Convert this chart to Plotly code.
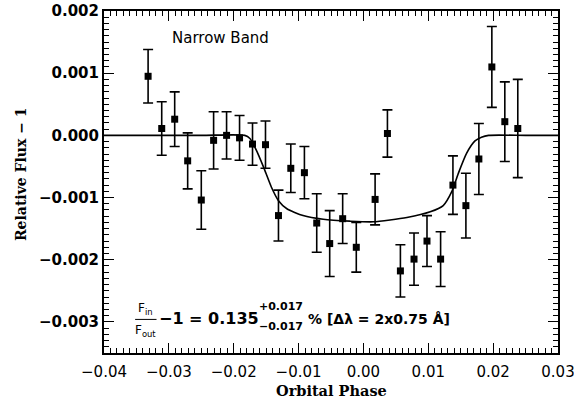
import plotly.graph_objects as go

# Binned narrow-band light curve
phase = [-0.0332, -0.0311, -0.0291, -0.0271, -0.0250, -0.0231, -0.0211, -0.0191,
         -0.0171, -0.0151, -0.0131, -0.0112, -0.0091, -0.0072, -0.0052, -0.0032,
         -0.0011, 0.0018, 0.0037, 0.0057, 0.0078, 0.0098, 0.0119, 0.0138,
         0.0158, 0.0178, 0.0198, 0.0218, 0.0238]
flux = [0.00095, 0.00011, 0.00026, -0.00041, -0.00104, -0.00008, 0.00000, -0.00004,
        -0.00014, -0.00015, -0.00129, -0.00053, -0.00060, -0.00141, -0.00174, -0.00134,
        -0.00180, -0.00103, 0.00003, -0.00218, -0.00199, -0.00170, -0.00199, -0.00080,
        -0.00113, -0.00038, 0.00110, 0.00022, 0.00011]
flux_err = [0.00043, 0.00043, 0.00044, 0.00045, 0.00047, 0.00046, 0.00038, 0.00036,
            0.00034, 0.00038, 0.00041, 0.00039, 0.00042, 0.00047, 0.00053, 0.00040,
            0.00040, 0.00041, 0.00038, 0.00042, 0.00042, 0.00041, 0.00044, 0.00047,
            0.00052, 0.00057, 0.00065, 0.00064, 0.00079]

# Transit model curve
model_phase = [-0.04, -0.025, -0.0183, -0.0175, -0.0165, -0.0154, -0.0142, -0.0131,
               -0.0118, -0.0093, -0.0062, -0.0021, 0.0015, 0.0067, 0.0103, 0.0123,
               0.0136, 0.0146, 0.0159, 0.0172, 0.0182, 0.0193, 0.025, 0.03]
model_flux = [0.0, 0.0, 0.0, -0.00005, -0.00024, -0.00051, -0.00083, -0.00105,
              -0.00118, -0.00129, -0.00135, -0.00138, -0.00139, -0.00132, -0.00123, -0.00113,
              -0.00091, -0.00062, -0.00029, -0.00009, -0.00003, 0.0, 0.0, 0.0]

x_ticks = [-0.04, -0.03, -0.02, -0.01, 0.00, 0.01, 0.02, 0.03]
x_labels = ["−0.04", "−0.03", "−0.02", "−0.01", "0.00", "0.01", "0.02", "0.03"]
y_ticks = [-0.003, -0.002, -0.001, 0.000, 0.001, 0.002]
y_labels = ["−0.003", "−0.002", "−0.001", "0.000", "0.001", "0.002"]

fig = go.Figure()
fig.add_trace(go.Scatter(
    x=model_phase, y=model_flux, mode="lines",
    line=dict(color="black", width=1.6, shape="spline", smoothing=0.6),
    hoverinfo="skip", showlegend=False))
fig.add_trace(go.Scatter(
    x=phase, y=flux, mode="markers",
    marker=dict(symbol="square", size=7, color="black"),
    error_y=dict(type="data", array=flux_err, visible=True,
                 color="black", thickness=1.6, width=5),
    showlegend=False))

axis_common = dict(
    showgrid=False, zeroline=False, showline=True, linecolor="black", linewidth=2,
    mirror="ticks", ticks="inside", ticklen=10, tickwidth=1.3, tickcolor="black",
    automargin=False, ticklabeloverflow="allow",
)

fig.update_xaxes(
    **axis_common, range=[-0.04000001, 0.03000001], tickvals=x_ticks, ticktext=x_labels,
    tickfont=dict(family="DejaVu Sans", size=15, color="black"),
    ticklabelstandoff=4,
    minor=dict(ticks="inside", dtick=0.001, ticklen=5, tickwidth=1, tickcolor="black"),
)
fig.update_yaxes(
    **axis_common, range=[-0.0035, 0.00200001], tickvals=y_ticks, ticktext=y_labels,
    tickfont=dict(family="DejaVu Sans", size=15, color="black", weight="bold"),
    minor=dict(ticks="inside", dtick=0.0001, ticklen=5, tickwidth=1, tickcolor="black"),
)

serif = dict(family="DejaVu Serif", color="black")
txt = dict(family="DejaVu Sans", color="black")

# axis titles
fig.add_annotation(xref="paper", yref="paper", x=0.5, y=-0.111, showarrow=False,
                   text="<b>Orbital Phase</b>", xanchor="center", yanchor="middle",
                   font=dict(size=14.5, **serif))
fig.add_annotation(xref="paper", yref="paper", x=-0.183, y=0.523, showarrow=False,
                   text="<b>Relative Flux − 1</b>", textangle=-90,
                   xanchor="center", yanchor="middle", font=dict(size=14, **serif))

annots = [
    dict(x=-0.0299, y=0.00157, text="Narrow Band", xanchor="left", yanchor="middle",
         font=dict(size=15, **txt)),
    dict(x=-0.03353, y=-0.00280, text="F<sub>in</sub>", xanchor="center", yanchor="middle",
         font=dict(size=12, **txt)),
    dict(x=-0.03353, y=-0.00314, text="F<sub>out</sub>", xanchor="center", yanchor="middle",
         font=dict(size=12, **txt)),
    dict(x=-0.0318, y=-0.00295, text="<b>−1 = 0.135</b>", xanchor="left", yanchor="middle",
         font=dict(size=16, **txt)),
    dict(x=-0.0164, y=-0.00276, text="<b>+0.017</b>", xanchor="left", yanchor="middle",
         font=dict(size=11, **txt)),
    dict(x=-0.0164, y=-0.00308, text="<b>−0.017</b>", xanchor="left", yanchor="middle",
         font=dict(size=11, **txt)),
    dict(x=-0.0088, y=-0.00295, text="<b>% [Δλ = 2x0.75 Å]</b>", xanchor="left",
         yanchor="middle", font=dict(size=14, **txt)),
]
for a in annots:
    fig.add_annotation(showarrow=False, xref="x", yref="y", **a)

# fraction bar
fig.add_shape(type="line", xref="x", yref="y", x0=-0.0352, x1=-0.0319,
              y0=-0.00296, y1=-0.00296, line=dict(color="black", width=1))

fig.update_layout(
    width=574, height=399,
    margin=dict(l=104, r=16, t=11, b=46),
    paper_bgcolor="white", plot_bgcolor="white",
    showlegend=False,
)

fig.write_html("out.html")
